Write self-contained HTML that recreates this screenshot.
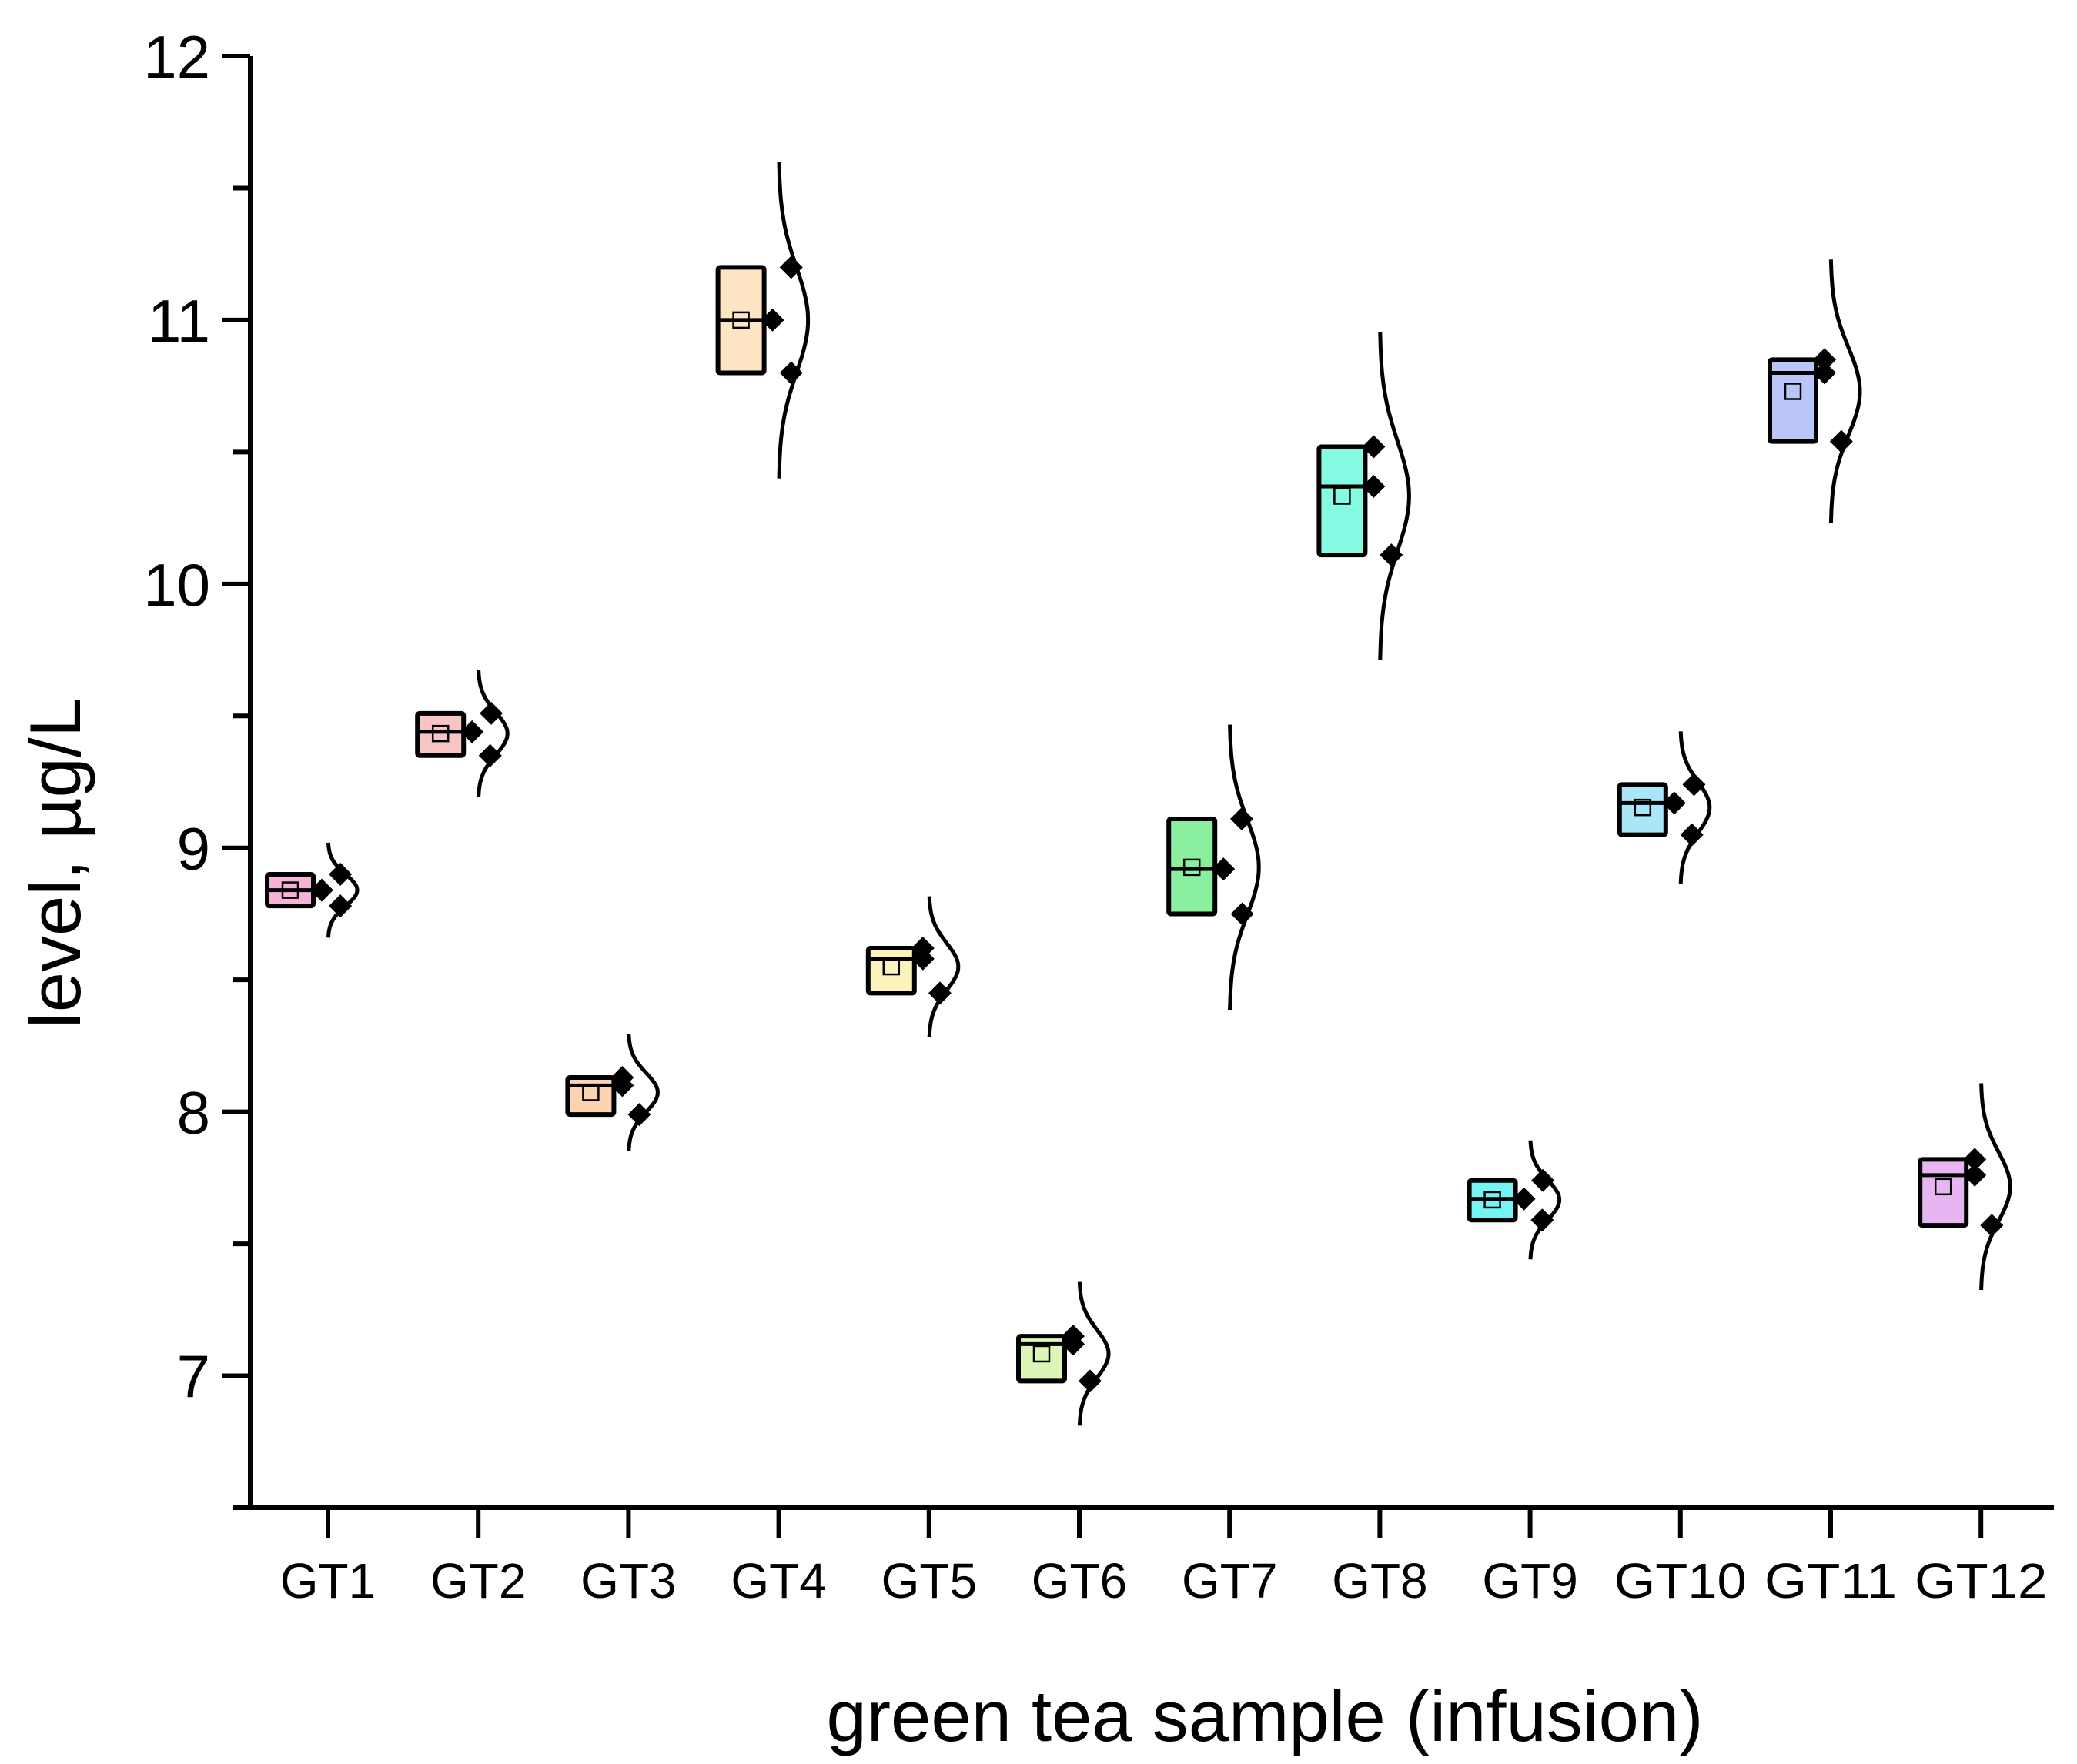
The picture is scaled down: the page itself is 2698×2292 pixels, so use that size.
<!DOCTYPE html>
<html><head><meta charset="utf-8"><style>
html,body{margin:0;padding:0;background:#fff;}
svg{display:block;font-family:"Liberation Sans",Arial,sans-serif;}
</style></head><body>
<svg id="chart" width="2698" height="2292" viewBox="0 0 2698 2292" xmlns="http://www.w3.org/2000/svg">
<g id="axes"></g>
<g id="marks"></g>
<text x="1643" y="2262" font-size="94" text-anchor="middle">green tea sample (infusion)</text>
<text transform="translate(104,1121) rotate(-90)" font-size="94" text-anchor="middle">level, µg/L</text>
</svg>
<script>
const categories = ["GT1","GT2","GT3","GT4","GT5","GT6","GT7","GT8","GT9","GT10","GT11","GT12"];
const obsA = [8.78, 9.35, 7.99, 10.80, 8.45, 6.98, 8.75, 10.11, 7.59, 9.05, 10.54, 7.57];
const obsB = [8.84, 9.44, 8.10, 11.00, 8.58, 7.12, 8.92, 10.37, 7.67, 9.17, 10.80, 7.76];
const obsC = [8.90, 9.51, 8.13, 11.20, 8.62, 7.15, 9.11, 10.52, 7.74, 9.24, 10.85, 7.82];
const yTicks = [7, 8, 9, 10, 11, 12];
const colors = ["#f6b3d9","#f8c5c5","#fcd3ae","#fde5c3","#fcf2bc","#ddf6b7","#8aef9f","#85fbe3","#75f4f6","#a9e6f7","#bac5f9","#e7b5f2"];

const NS="http://www.w3.org/2000/svg";
const X0=325, X1=2668, YB=1959, YMIN=6.5, YMAX=12, YTOP=73;
const yS=v=>YB-(v-YMIN)/(YMAX-YMIN)*(YB-YTOP);
const xS=i=>426+i*195.2;
function mk(p,tag,attrs){const e=document.createElementNS(NS,tag);for(const k in attrs)e.setAttribute(k,attrs[k]);p.appendChild(e);return e;}
const axes=document.getElementById('axes'), marks=document.getElementById('marks');

let a=mk(axes,'path',{d:`M${X0} ${YTOP} V${YB} H${X1}`,stroke:'#000','stroke-width':6,fill:'none'});


for(let v=6.5; v<=12.001; v+=0.5){
  const major=Math.abs(v-Math.round(v))<1e-6 && v>=7;
  const t=mk(axes,'line',{x1:X0-(major?36:22),x2:X0,y1:yS(v),y2:yS(v),stroke:'#000','stroke-width':6});
  
  
}
yTicks.forEach(v=>{
  const t=mk(axes,'text',{x:X0-52,y:yS(v)+28,'font-size':78,'text-anchor':'end'});
  t.textContent=v;
  
  
});
categories.forEach((c,i)=>{
  const t=mk(axes,'line',{x1:xS(i),x2:xS(i),y1:YB,y2:YB+40,stroke:'#000','stroke-width':6});
  
  
  const l=mk(axes,'text',{x:xS(i),y:2076,'font-size':64,'text-anchor':'middle'});
  if(c.length>3){l.setAttribute('textLength',172);l.setAttribute('lengthAdjust','spacingAndGlyphs');}
  l.textContent=c;
  
  
});

categories.forEach((c,i)=>{
  const d=[obsA[i],obsB[i],obsC[i]].slice().sort((p,q)=>p-q);
  const mean=(d[0]+d[1]+d[2])/3;
  const sd=Math.sqrt(d.reduce((s,v)=>s+(v-mean)**2,0)/2)||0.01;
  const cx=xS(i);
  const g=mk(marks,'g',{});
  
  
  const r=mk(g,'rect',{x:cx-79,y:yS(d[2]),width:60,height:yS(d[0])-yS(d[2]),fill:colors[i],stroke:'#000','stroke-width':6,rx:3});
  
  
  const m=mk(g,'line',{x1:cx-79,x2:cx-19,y1:yS(d[1]),y2:yS(d[1]),stroke:'#000','stroke-width':5});
  
  
  const mm=mk(g,'rect',{x:cx-59,y:yS(mean)-10,width:20,height:20,fill:'none',stroke:'#000','stroke-width':2.5});
  
  
  let p='';
  for(let k=0;k<=80;k++){
    const z=-3+6*k/80, v=mean+z*sd;
    const x=cx+38*Math.exp(-0.5*z*z);
    p+=(k?'L':'M')+x.toFixed(1)+' '+yS(v).toFixed(1);
  }
  const cu=mk(g,'path',{d:p,fill:'none',stroke:'#000','stroke-width':5});
  
  
  [obsA[i],obsB[i],obsC[i]].forEach(v=>{
    const z=(v-mean)/sd;
    const off=Math.abs(z)>0.9?38*Math.exp(-0.5*z*z)*0.7:-8;
    const x=cx+off, y=yS(v), s=15;
    const dm=mk(g,'path',{d:`M${x} ${y-s}L${x+s} ${y}L${x} ${y+s}L${x-s} ${y}Z`,fill:'#000'});
    
    
  });
});
</script>
</body></html>
